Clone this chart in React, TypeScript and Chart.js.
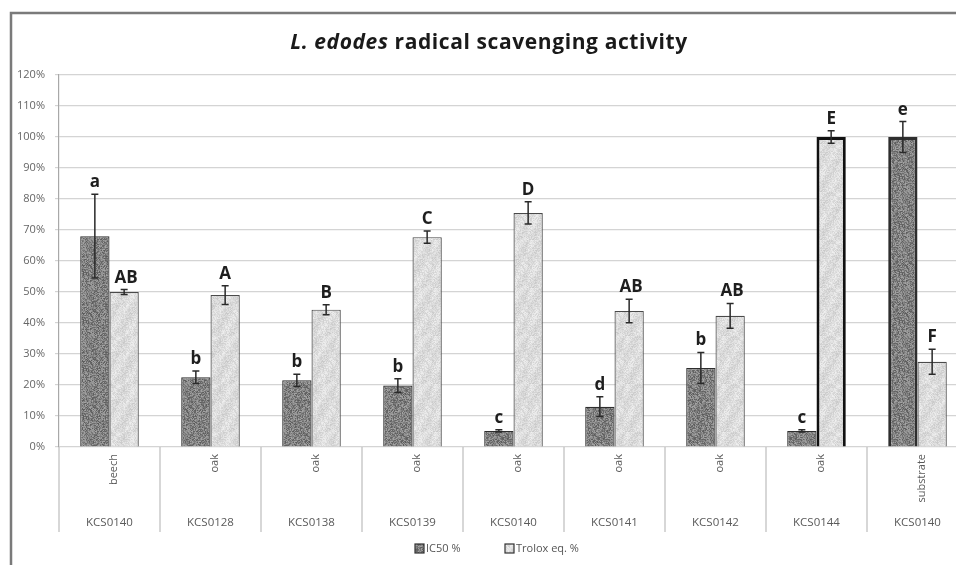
import React, { useEffect, useRef } from 'react';
import { Chart, registerables } from 'chart.js';

Chart.register(...registerables);

const categories = ['KCS0140', 'KCS0128', 'KCS0138', 'KCS0139', 'KCS0140', 'KCS0141', 'KCS0142', 'KCS0144', 'KCS0140'];
const substrates = ['beech', 'oak', 'oak', 'oak', 'oak', 'oak', 'oak', 'oak', 'substrate'];
const ic50 = [68, 22.5, 21.5, 19.8, 5.2, 13, 25.5, 5.2, 100];
const ic50Err = [13.5, 2, 2, 2.2, 0.4, 3.2, 5, 0.4, 5];
const trolox = [50, 49, 44.3, 67.7, 75.5, 43.9, 42.3, 100, 27.5];
const troloxErr = [0.8, 3, 1.6, 2, 3.6, 3.8, 4, 2, 4];
const ic50Letters = ['a', 'b', 'b', 'b', 'c', 'd', 'b', 'c', 'e'];
const troloxLetters = ['AB', 'A', 'B', 'C', 'D', 'AB', 'AB', 'E', 'F'];
const yTicks = [0, 10, 20, 30, 40, 50, 60, 70, 80, 90, 100, 110, 120];
const seriesNames = ['IC50 %', 'Trolox eq. %'];

const FONT = '"Open Sans", Lato, sans-serif';

function makePattern(base: number, spread: number, streak: boolean): CanvasPattern | string {
  const c = document.createElement('canvas');
  const n = 48;
  c.width = n;
  c.height = n;
  const ctx = c.getContext('2d');
  if (!ctx) return `rgb(${base},${base},${base})`;
  const img = ctx.createImageData(n, n);
  let s = 12345;
  const rnd = () => {
    s = (s * 1103515245 + 12345) & 0x7fffffff;
    return s / 0x7fffffff;
  };
  for (let y = 0; y < n; y++) {
    for (let x = 0; x < n; x++) {
      let v = base + (rnd() - 0.5) * spread;
      if (streak) v += Math.sin((x + y * 0.6) * 0.35) * 6;
      v = Math.max(0, Math.min(255, v));
      const i = (y * n + x) * 4;
      img.data[i] = v;
      img.data[i + 1] = v;
      img.data[i + 2] = v;
      img.data[i + 3] = 255;
    }
  }
  ctx.putImageData(img, 0, 0);
  const p = ctx.createPattern(c, 'repeat');
  return p || `rgb(${base},${base},${base})`;
}

export default function App() {
  const ref = useRef<HTMLCanvasElement | null>(null);

  useEffect(() => {
    if (!ref.current) return;
    const darkPat = makePattern(128, 75, false);
    const lightPat = makePattern(220, 28, true);

    const overlay = {
      id: 'overlay',
      afterDatasetsDraw(chart: any) {
        const ctx = chart.ctx;
        const y = chart.scales.y;
        const errs = [ic50Err, troloxErr];
        const vals = [ic50, trolox];
        const letters = [ic50Letters, troloxLetters];
        ctx.save();
        for (let d = 0; d < 2; d++) {
          const meta = chart.getDatasetMeta(d);
          meta.data.forEach((bar: any, i: number) => {
            const x = bar.x;
            const top = y.getPixelForValue(vals[d][i] + errs[d][i]);
            const bot = y.getPixelForValue(vals[d][i] - errs[d][i]);
            ctx.strokeStyle = '#2a2a2a';
            ctx.lineWidth = 1.5;
            ctx.beginPath();
            ctx.moveTo(x, top);
            ctx.lineTo(x, bot);
            ctx.moveTo(x - 3.5, top);
            ctx.lineTo(x + 3.5, top);
            ctx.moveTo(x - 3.5, bot);
            ctx.lineTo(x + 3.5, bot);
            ctx.stroke();
            ctx.fillStyle = '#1e1e1e';
            ctx.font = `bold 17px ${FONT}`;
            ctx.textAlign = 'center';
            ctx.textBaseline = 'alphabetic';
            ctx.fillText(letters[d][i], x + (letters[d][i].length > 1 ? 2 : 0), top - 7);
          });
        }
        ctx.restore();
      },
      afterDraw(chart: any) {
        const ctx = chart.ctx;
        const xs = chart.scales.x;
        const area = chart.chartArea;
        ctx.save();
        // frame
        ctx.strokeStyle = '#7a7a7a';
        ctx.lineWidth = 2.5;
        ctx.strokeRect(11, 13, 1100, 700);
        // category dividers
        ctx.strokeStyle = '#bdbdbd';
        ctx.lineWidth = 1.2;
        const half = (xs.getPixelForValue(1) - xs.getPixelForValue(0)) / 2;
        for (let i = 0; i <= categories.length; i++) {
          const bx = xs.getPixelForValue(0) - half + i * half * 2;
          ctx.beginPath();
          ctx.moveTo(bx, area.bottom);
          ctx.lineTo(bx, area.bottom + 85);
          ctx.stroke();
        }
        // labels
        ctx.fillStyle = '#5a5a5a';
        categories.forEach((c, i) => {
          const cx = xs.getPixelForValue(i);
          ctx.save();
          ctx.translate(cx + 4, area.bottom + 7);
          ctx.rotate(-Math.PI / 2);
          ctx.font = `11px ${FONT}`;
          ctx.textAlign = 'right';
          ctx.textBaseline = 'middle';
          ctx.fillText(substrates[i], 0, 0);
          ctx.restore();
          ctx.font = `11.5px ${FONT}`;
          ctx.textAlign = 'center';
          ctx.textBaseline = 'middle';
          ctx.fillText(c, cx, area.bottom + 76);
        });
        // title
        ctx.fillStyle = '#1a1a1a';
        const p1 = 'L. edodes';
        const p2 = ' radical scavenging activity';
        try {
          (ctx as any).letterSpacing = '0.6px';
        } catch (e) {
          /* ignore */
        }
        ctx.font = `italic bold 21px ${FONT}`;
        const w1 = ctx.measureText(p1).width;
        ctx.font = `bold 21px ${FONT}`;
        const w2 = ctx.measureText(p2).width;
        const start = 489 - (w1 + w2) / 2;
        ctx.textAlign = 'left';
        ctx.textBaseline = 'alphabetic';
        ctx.font = `italic bold 21px ${FONT}`;
        ctx.fillText(p1, start, 49);
        ctx.font = `bold 21px ${FONT}`;
        ctx.fillText(p2, start + w1, 49);
        try {
          (ctx as any).letterSpacing = '0px';
        } catch (e) {
          /* ignore */
        }
        // legend
        const pats = [darkPat, lightPat];
        const lx = [415, 505];
        ctx.font = `11px ${FONT}`;
        ctx.textBaseline = 'middle';
        ctx.textAlign = 'left';
        for (let k = 0; k < 2; k++) {
          ctx.fillStyle = pats[k] as any;
          ctx.fillRect(lx[k], 544, 9, 9);
          ctx.strokeStyle = '#333';
          ctx.lineWidth = 1.2;
          ctx.strokeRect(lx[k], 544, 9, 9);
          ctx.fillStyle = '#555';
          ctx.fillText(seriesNames[k], lx[k] + 11, 549);
        }
        ctx.restore();
      },
    };

    const chart = new Chart(ref.current, {
      type: 'bar',
      data: {
        labels: categories,
        datasets: [
          {
            label: seriesNames[0],
            data: ic50,
            backgroundColor: darkPat as any,
            borderColor: '#2e2e2e',
            borderWidth: ic50.map((_, i) => (i === 8 ? 3 : 1.2)),
            categoryPercentage: 0.58,
            barPercentage: 1,
          },
          {
            label: seriesNames[1],
            data: trolox,
            backgroundColor: lightPat as any,
            borderColor: trolox.map((_, i) => (i === 7 ? '#111' : '#4a4a4a')),
            borderWidth: trolox.map((_, i) => (i === 7 ? 3 : 1.2)),
            categoryPercentage: 0.58,
            barPercentage: 1,
          },
        ],
      },
      options: {
        animation: false,
        responsive: false,
        maintainAspectRatio: false,
        devicePixelRatio: 1,
        layout: { padding: { top: 75, left: 0, right: 32, bottom: 118 } },
        plugins: {
          legend: { display: false },
          title: { display: false },
          tooltip: { enabled: false },
        },
        scales: {
          x: {
            grid: { display: false, drawTicks: false },
            border: { display: false },
            ticks: { display: false },
            afterFit: (s: any) => {
              s.height = 0;
            },
          },
          y: {
            min: 0,
            max: 120,
            afterBuildTicks: (s: any) => {
              s.ticks = yTicks.map((v) => ({ value: v }));
            },
            afterFit: (s: any) => {
              s.width = 59;
            },
            grid: { color: '#d4d4d4', lineWidth: 1.2, tickLength: 4 },
            border: { color: '#a8a8a8', width: 1.2 },
            ticks: {
              color: '#666',
              font: { family: FONT, size: 11 },
              padding: 10,
              callback: (v: any) => `${v}%`,
            },
          },
        },
      },
      plugins: [overlay],
    });
    return () => chart.destroy();
  }, []);

  return (
    <div style={{ position: 'fixed', left: 0, top: 0, width: 956, height: 565, overflow: 'hidden', background: '#fff' }}>
      <canvas ref={ref} width={1000} height={565} style={{ display: 'block', width: 1000, height: 565 }} />
    </div>
  );
}
